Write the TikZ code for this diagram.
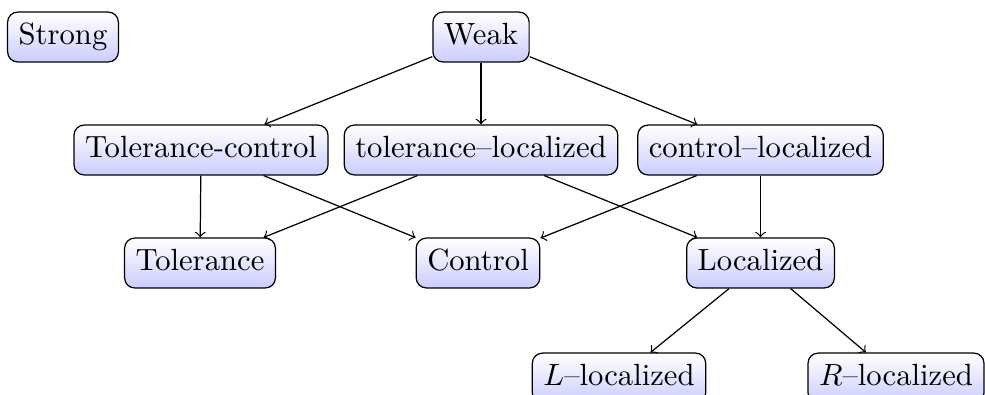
\documentclass[tikz,border=0pt]{standalone}
\usetikzlibrary{shapes.misc}
\begin{document}
\begin{tikzpicture}[x=0.326pt,y=-0.326pt,
  box/.style={draw, rounded corners=3.3pt, top color=white, bottom color=blue!20,
    inner xsep=3.6pt, inner ysep=3.7pt, text height=6.9pt, text depth=1.95pt},
  edge/.style={->}]
\useasboundingbox (0,0) rectangle (985,394);
\node[box] (strong) at (63,37) {Strong};
\node[box] (weak) at (481,37) {Weak};
\node[box] (tc) at (201,150) {Tolerance-control};
\node[box] (tl) at (481,150) {tolerance--localized};
\node[box] (cl) at (760.5,150) {control--localized};
\node[box] (tol) at (200,263) {Tolerance};
\node[box] (con) at (478,263) {Control};
\node[box] (loc) at (760.5,263) {Localized};
\node[box] (ll) at (619,378) {$L$--localized};
\node[box] (rl) at (896,378) {$R$--localized};
\draw[edge] (weak) -- (tc);
\draw[edge] (weak) -- (tl);
\draw[edge] (weak) -- (cl);
\draw[edge] (tc) -- (tol);
\draw[edge] (tc) -- (con);
\draw[edge] (tl) -- (tol);
\draw[edge] (tl) -- (loc);
\draw[edge] (cl) -- (con);
\draw[edge] (cl) -- (loc);
\draw[edge] (loc) -- (ll);
\draw[edge] (loc) -- (rl);
\end{tikzpicture}
\end{document}
